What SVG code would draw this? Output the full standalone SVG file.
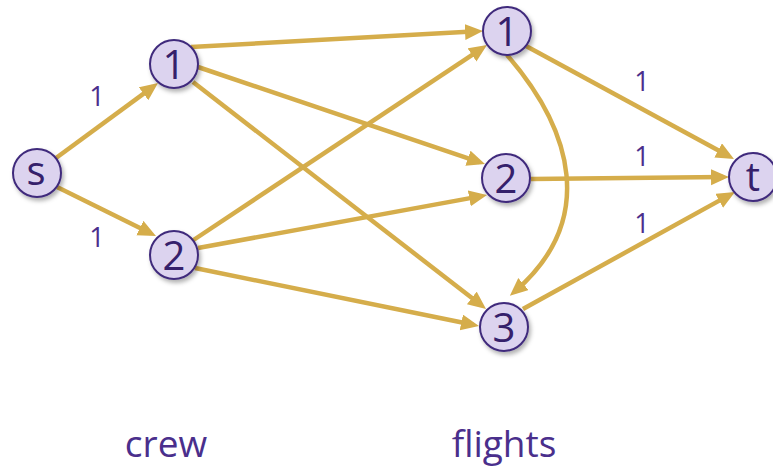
<svg xmlns="http://www.w3.org/2000/svg" width="773" height="467" viewBox="0 0 773 467">
  <style>
    .edge { fill: none; stroke: #d5ad4b; stroke-width: 4.5; marker-end: url(#arrow); }
    .node circle { fill: #dcd3ef; stroke: #3f2a7c; stroke-width: 2; filter: url(#shadow); }
    .node text { font-family: "Open Sans", "Liberation Sans", sans-serif; font-size: 40px; fill: #35206b; text-anchor: middle; }
    .lbl { font-family: "Open Sans", "Liberation Sans", sans-serif; font-size: 27px; fill: #4a2f8c; text-anchor: middle; }
    .cap { font-family: "Open Sans", "Liberation Sans", sans-serif; font-size: 37px; fill: #4a2f8c; text-anchor: middle; }
  </style>
  <defs>
    <marker id="arrow" markerUnits="userSpaceOnUse" markerWidth="20" markerHeight="18" refX="12" refY="8" orient="auto">
      <path d="M0,0 L18,8 L0,16 Z" fill="#d5ad4b"/>
    </marker>
    <filter id="shadow" x="-30%" y="-30%" width="170%" height="170%">
      <feDropShadow dx="2" dy="3" stdDeviation="2" flood-color="#000" flood-opacity="0.3"/>
    </filter>
  </defs>
  <rect width="773" height="467" fill="#ffffff"/>
  <g id="connectors">
    <line class="edge" x1="56" y1="158" x2="153.2" y2="86.6"/>
    <line class="edge" x1="57" y1="187" x2="150.6" y2="233.3"/>
    <line class="edge" x1="191" y1="47" x2="477" y2="31.3"/>
    <line class="edge" x1="198" y1="67" x2="479.3" y2="162.1"/>
    <line class="edge" x1="193" y1="82" x2="481.3" y2="305.3"/>
    <line class="edge" x1="192" y1="241" x2="482" y2="48.3"/>
    <line class="edge" x1="198" y1="248" x2="481.1" y2="196.1"/>
    <line class="edge" x1="195" y1="268" x2="473.1" y2="324.8"/>
    <line class="edge" x1="526" y1="46" x2="728.7" y2="156.1"/>
    <line class="edge" x1="531" y1="179" x2="723" y2="177.1"/>
    <line class="edge" x1="523" y1="309" x2="729.7" y2="194.9"/>
    <path class="edge" d="M507,55 C572,130 598,220 514.4,291.9"/>
  </g>
  <g id="labels">
    <text class="lbl" x="97" y="106">1</text>
    <text class="lbl" x="97" y="247">1</text>
    <text class="lbl" x="642" y="91">1</text>
    <text class="lbl" x="642" y="166">1</text>
    <text class="lbl" x="642" y="233">1</text>
  </g>
  <g id="node-s" class="node"><circle cx="37" cy="173" r="24"/><text x="36" y="185">s</text></g>
  <g id="node-c1" class="node"><circle cx="174" cy="64" r="24"/><text x="174" y="79">1</text></g>
  <g id="node-c2" class="node"><circle cx="174" cy="255" r="24"/><text x="174" y="270">2</text></g>
  <g id="node-f1" class="node"><circle cx="507" cy="31" r="24"/><text x="507" y="46">1</text></g>
  <g id="node-f2" class="node"><circle cx="506" cy="178" r="24"/><text x="506" y="193">2</text></g>
  <g id="node-f3" class="node"><circle cx="504" cy="327" r="24"/><text x="504" y="342">3</text></g>
  <g id="node-t" class="node"><circle cx="753" cy="177" r="24"/><text x="753" y="191">t</text></g>
  <g id="captions">
    <text class="cap" x="166" y="457">crew</text>
    <text class="cap" x="504" y="457">flights</text>
  </g>
</svg>
